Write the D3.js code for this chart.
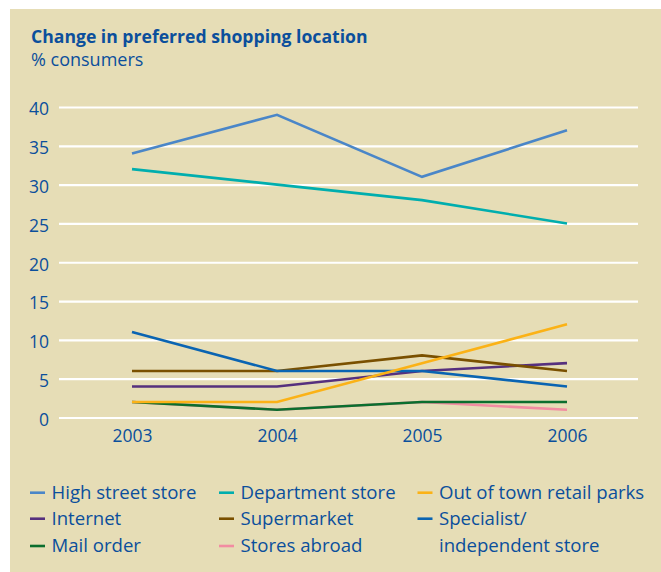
<!DOCTYPE html>
<html><head><meta charset="utf-8">
<script src="https://cdn.jsdelivr.net/npm/d3@7"></script>
<style>html,body{margin:0;padding:0;background:#fff;}svg{display:block;}</style>
</head><body>
<script>
const years = ["2003","2004","2005","2006"];
const yTicks = [0,5,10,15,20,25,30,35,40];
const seriesNames = ["High street store","Department store","Out of town retail parks","Internet","Supermarket","Specialist/ independent store","Mail order","Stores abroad"];
const seriesColors = ["#4a86c8","#00aeae","#fbb216","#56307e","#7a5000","#0a64b2","#0b6e2e","#f28ca2"];
const highStreet = [34,39,31,37];
const department = [32,30,28,25];
const outOfTown = [2,2,7,12];
const internet = [4,4,6,7];
const supermarket = [6,6,8,6];
const specialist = [11,6,6,4];
const mailOrder = [2,1,2,2];
const storesAbroad = [2,1,2,1];
const seriesValues = [highStreet,department,outOfTown,internet,supermarket,specialist,mailOrder,storesAbroad];
// drawing order (bottom to top)
const drawOrder = [7,6,3,4,5,2,1,0];

const W=661,H=572, textColor="#0b4f9c", font="'Open Sans', sans-serif";
const svg=d3.select("body").append("svg").attr("width",W).attr("height",H);
svg.append("rect").attr("x",10).attr("y",9).attr("width",W-10).attr("height",H-9).attr("fill","#e6ddb6");

svg.append("text").attr("x",31).attr("y",43).attr("fill",textColor).attr("font-family",font)
  .attr("font-weight","bold").attr("font-size",17.6).text("Change in preferred shopping location");
svg.append("text").attr("x",31).attr("y",66).attr("fill",textColor).attr("font-family",font)
  .attr("font-size",18).text("% consumers");

const x=d3.scalePoint().domain(years).range([132,567]);
const y=d3.scaleLinear().domain([0,40]).range([417.5,107]);

const yAxis=svg.append("g").attr("transform","translate(59,0)")
  .call(d3.axisLeft(y).tickValues(yTicks).tickSize(-579).tickPadding(10));
yAxis.select(".domain").remove();
yAxis.selectAll(".tick line").attr("stroke","#fff").attr("stroke-width",2.2);
yAxis.selectAll(".tick text").attr("fill",textColor).attr("font-family",font).attr("font-size",17.5).attr("dy","0.45em");

const xAxis=svg.append("g").attr("transform","translate(0,417.5)")
  .call(d3.axisBottom(x).tickSize(0).tickPadding(12));
xAxis.select(".domain").remove();
xAxis.selectAll(".tick text").attr("fill",textColor).attr("font-family",font).attr("font-size",17.5);

const line=d3.line().x((d,i)=>x(years[i])).y(d=>y(d));
drawOrder.forEach(k=>{
  svg.append("path").datum(seriesValues[k]).attr("d",line).attr("fill","none")
    .attr("stroke",seriesColors[k]).attr("stroke-width",2.6).attr("stroke-linejoin","miter");
});

// legend (row-major, 3 columns)
const colX=[30,219,417.5], rowY=[492.7,518.7,546];
seriesNames.forEach((n,i)=>{
  const c=i%3, r=Math.floor(i/3);
  const g=svg.append("g").attr("transform",`translate(${colX[c]},${rowY[r]})`);
  g.append("line").attr("x1",0).attr("x2",15).attr("y1",0).attr("y2",0).attr("stroke",seriesColors[i]).attr("stroke-width",2.6);
  const t=g.append("text").attr("x",21.5).attr("y",6.3).attr("fill",textColor).attr("font-family",font).attr("font-size",18.6);
  if(n.startsWith("Specialist/")){
    t.append("tspan").attr("x",21.5).text("Specialist/");
    t.append("tspan").attr("x",21.5).attr("dy",27.3).text("independent store");
  } else t.text(n);
});
</script>
</body></html>
